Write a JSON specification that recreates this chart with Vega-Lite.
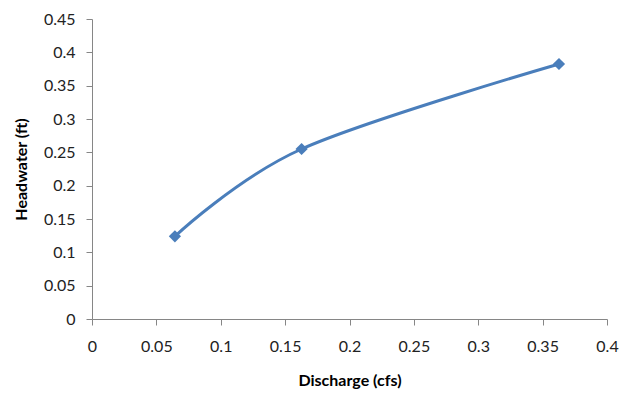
{
  "$schema": "https://vega.github.io/schema/vega-lite/v6.json",
  "width": 515,
  "height": 300,
  "autosize": "none",
  "padding": {"left": 92, "top": 19, "right": 20, "bottom": 78},
  "background": "white",
  "config": {
    "view": {"stroke": null},
    "font": "Lato",
    "axis": {
      "grid": false,
      "domainColor": "#868686",
      "tickColor": "#868686",
      "tickSize": 6,
      "labelFont": "Lato",
      "labelFontSize": 16,
      "labelColor": "#222222",
      "titleFont": "Lato",
      "titleFontSize": 16,
      "titleFontWeight": "bold",
      "titleColor": "#000000"
    }
  },
  "data": {
    "values": [
      {"discharge": 0.0644, "headwater": 0.124},
      {"discharge": 0.1628, "headwater": 0.255},
      {"discharge": 0.3627, "headwater": 0.3825}
    ]
  },
  "encoding": {
    "x": {
      "field": "discharge", "type": "quantitative",
      "scale": {"domain": [0, 0.4], "nice": false},
      "axis": {"title": "Discharge (cfs)", "values": [0, 0.05, 0.1, 0.15, 0.2, 0.25, 0.3, 0.35, 0.4], "format": "~g", "labelPadding": 13, "titlePadding": 18, "labelFlush": false, "labelOverlap": false}
    },
    "y": {
      "field": "headwater", "type": "quantitative",
      "scale": {"domain": [0, 0.45], "nice": false},
      "axis": {"title": "Headwater (ft)", "values": [0, 0.05, 0.1, 0.15, 0.2, 0.25, 0.3, 0.35, 0.4, 0.45], "format": "~g", "labelPadding": 11, "titlePadding": 14, "labelFlush": false, "labelOverlap": false}
    }
  },
  "layer": [
    {
      "mark": {"type": "line", "interpolate": "cardinal", "color": "#4A7EBB", "strokeWidth": 3}
    },
    {
      "mark": {"type": "point", "shape": "diamond", "filled": true, "color": "#4A7EBB", "size": 150, "opacity": 1}
    }
  ]
}
